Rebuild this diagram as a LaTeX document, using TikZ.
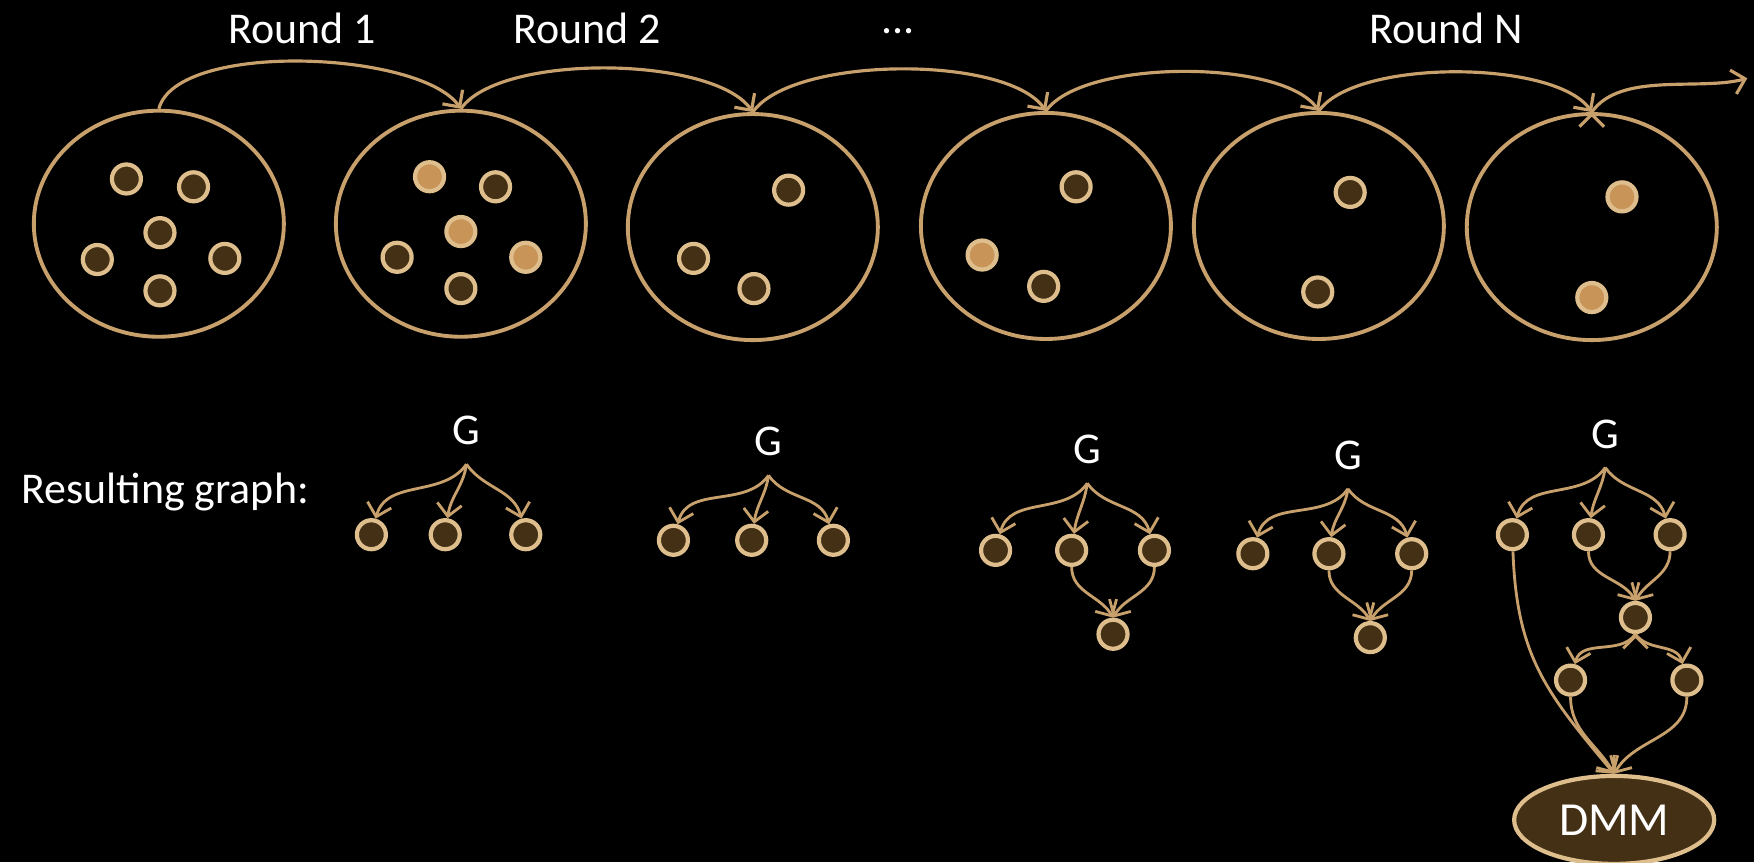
\documentclass[tikz,border=0pt]{standalone}
\usepackage{fontspec}
\setmainfont{Carlito}
\usepackage{xcolor}
\usepackage{tikz}
\usetikzlibrary{arrows.meta,shapes.geometric,positioning}

\definecolor{tan}{RGB}{200,160,108}
\definecolor{ring}{RGB}{222,190,140}
\definecolor{darkbrown}{RGB}{68,48,20}
\definecolor{litbrown}{RGB}{200,148,88}

\tikzset{
  pool/.style={ellipse, draw=tan, line width=1.1pt, minimum width=2.5cm, minimum height=2.26cm, inner sep=0pt},
  bead/.style={circle, draw=ring, line width=1.2pt, fill=darkbrown, minimum size=0.29cm, inner sep=0pt},
  litbead/.style={bead, fill=litbrown},
  lbl/.style={text=white, font=\fontsize{12.5}{15}\selectfont},
  wire/.style={draw=tan, line width=0.8pt, -{Straight Barb[length=3.5pt,width=7pt]}},
}

\begin{document}
\begin{tikzpicture}[x=0.011186cm, y=0.011186cm]
      \useasboundingbox (0,0) rectangle (1568,-771);
      \fill[black] (0,0) rectangle (1568,-771);

      % rounds
      \node[pool] (r1) at (142,-200) {};
      \node[pool] (r2) at (412,-200) {};
      \node[pool] (r3) at (673,-203) {};
      \node[pool] (r4) at (935,-202) {};
      \node[pool] (r5) at (1179,-202) {};
      \node[pool] (r6) at (1423,-203) {};
      \coordinate (next) at (1562,-70);

      \node[lbl] (t1) at (270,-25) {Round 1};
      \node[lbl] (t2) at (525,-25) {Round 2};
      \node[lbl] (t3) at (803,-28) {...};
      \node[lbl] (tN) at (1293,-25) {Round N};

      \path[wire, line width=0.9pt]
      (r1.north) edge [out=75, in=125, looseness=0.6] (r2.north)
      (r2.north) edge [out=55, in=125, looseness=0.6] (r3.north)
      (r3.north) edge [out=55, in=125, looseness=0.6] (r4.north)
      (r4.north) edge [out=55, in=125, looseness=0.6] (r5.north)
      (r5.north) edge [out=55, in=125, looseness=0.6] (r6.north)
      (r6.north) edge [out=55, in=195, looseness=0.8] (next);

      % beads
      \node[bead] (a1) at (113,-160) {};
      \node[bead] (a2) at (173,-167) {};
      \node[bead] (a3) at (143,-208) {};
      \node[bead] (a4) at (87,-232) {};
      \node[bead] (a5) at (201,-231) {};
      \node[bead] (a6) at (143,-260) {};

      \node[litbead] (b1) at (384,-158) {};
      \node[bead] (b2) at (443,-167) {};
      \node[litbead] (b3) at (412,-207) {};
      \node[bead] (b4) at (355,-230) {};
      \node[litbead] (b5) at (470,-230) {};
      \node[bead] (b6) at (412,-258) {};

      \node[bead] (c1) at (705,-170) {};
      \node[bead] (c2) at (620,-231) {};
      \node[bead] (c3) at (674,-258) {};

      \node[bead] (d1) at (962,-167) {};
      \node[litbead] (d2) at (878,-228) {};
      \node[bead] (d3) at (933,-256) {};

      \node[bead] (e1) at (1207,-172) {};
      \node[bead] (e2) at (1178,-261) {};

      \node[litbead] (f1) at (1450,-176) {};
      \node[litbead] (f2) at (1423,-266) {};

      % resulting graphs
      \node[lbl, anchor=west] (res) at (8,-440) {Resulting graph:};

      \node[lbl] (G1) at (417,-385) {G};
      \coordinate (s1) at (417,-415);
      \node[bead] (g11) at (332,-478) {};
      \node[bead] (g12) at (398,-478) {};
      \node[bead] (g13) at (470,-478) {};

      \node[lbl] (G2) at (687,-395) {G};
      \coordinate (s2) at (687,-425);
      \node[bead] (g21) at (602,-483) {};
      \node[bead] (g22) at (672,-483) {};
      \node[bead] (g23) at (745,-483) {};

      \node[lbl] (G3) at (972,-402) {G};
      \coordinate (s3) at (972,-432);
      \node[bead] (g31) at (890,-492) {};
      \node[bead] (g32) at (958,-492) {};
      \node[bead] (g33) at (1032,-492) {};
      \node[bead] (g34) at (995,-567) {};

      \node[lbl] (G4) at (1205,-407) {G};
      \coordinate (s4) at (1205,-437);
      \node[bead] (g41) at (1120,-495) {};
      \node[bead] (g42) at (1188,-495) {};
      \node[bead] (g43) at (1262,-495) {};
      \node[bead] (g44) at (1225,-570) {};

      \node[lbl] (G5) at (1435,-388) {G};
      \coordinate (s5) at (1435,-418);
      \node[bead] (g51) at (1352,-478) {};
      \node[bead] (g52) at (1420,-478) {};
      \node[bead] (g53) at (1493,-478) {};
      \node[bead] (g54) at (1462,-552) {};
      \node[bead] (g55) at (1404,-608) {};
      \node[bead] (g56) at (1508,-608) {};
      \node[ellipse, draw=ring, line width=1.2pt, fill=darkbrown, minimum width=2.0cm,
            minimum height=0.88cm, text=white, font=\fontsize{13.5}{16}\selectfont] (dmm) at (1443,-733) {DMM};

      \path[wire]
      (s1) edge [out=235, in=75] (g11)
      (s1) edge [out=262, in=82] (g12)
      (s1) edge [out=-55, in=105] (g13)
      (s2) edge [out=235, in=75] (g21)
      (s2) edge [out=262, in=82] (g22)
      (s2) edge [out=-55, in=105] (g23)
      (s3) edge [out=235, in=75] (g31)
      (s3) edge [out=262, in=82] (g32)
      (s3) edge [out=-55, in=105] (g33)
      (g32) edge [out=-90, in=120] (g34.north)
      (g33) edge [out=-90, in=60] (g34.north)
      (s4) edge [out=235, in=75] (g41)
      (s4) edge [out=262, in=82] (g42)
      (s4) edge [out=-55, in=105] (g43)
      (g42) edge [out=-90, in=120] (g44.north)
      (g43) edge [out=-90, in=60] (g44.north)
      (s5) edge [out=235, in=75] (g51)
      (s5) edge [out=262, in=82] (g52)
      (s5) edge [out=-55, in=105] (g53)
      (g52) edge [out=-90, in=120] (g54.north)
      (g53) edge [out=-90, in=60] (g54.north)
      (g54.south) edge [out=235, in=75] (g55)
      (g54.south) edge [out=-55, in=105] (g56)
      (g55) edge [out=-90, in=120] (dmm.north)
      (g56) edge [out=-90, in=60] (dmm.north)
      (g51) edge [out=-88, in=130, looseness=1.1] (dmm.north);
    \end{tikzpicture}
\end{document}
